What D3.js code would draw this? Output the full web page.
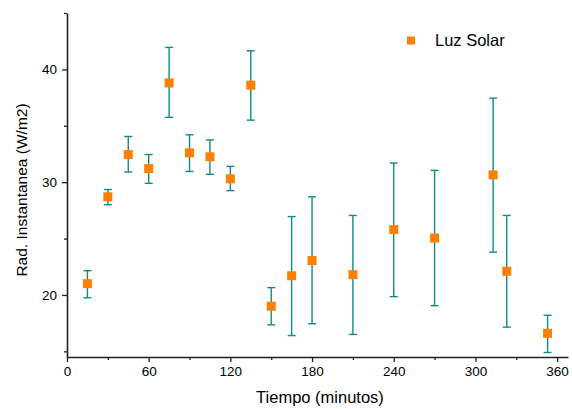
<!DOCTYPE html>
<html>
<head>
<meta charset="utf-8">
<script src="https://cdn.jsdelivr.net/npm/d3@7"></script>
<style>
  body { margin: 0; background: #fff; }
  text { font-family: "Liberation Sans", Arial, sans-serif; fill: #000; }
</style>
</head>
<body>
<div id="chart"></div>
<script>
// data
const tiempo = [15, 30, 45, 60, 75, 90, 105, 120, 135, 150, 165, 180, 210, 240, 270, 313, 323, 353];
const radiacion = [21.0, 28.7, 32.45, 31.2, 38.8, 32.6, 32.25, 30.3, 38.6, 19.0, 21.7, 23.05, 21.8, 25.8, 25.05, 30.65, 22.1, 16.6];
const errorAlto = [22.15, 29.35, 34.05, 32.45, 41.95, 34.2, 33.75, 31.4, 41.65, 20.65, 26.95, 28.7, 27.05, 31.7, 31.05, 37.45, 27.05, 18.2];
const errorBajo = [19.75, 28.0, 30.9, 29.9, 35.75, 30.95, 30.7, 29.25, 35.5, 17.35, 16.4, 17.45, 16.5, 19.85, 19.05, 23.8, 17.15, 14.9];
const xTicks = [0, 60, 120, 180, 240, 300, 360];
const xMinor = [30, 90, 150, 210, 270, 330];
const yTicks = [20, 30, 40];
const yMinor = [15, 25, 35, 45];

const width = 572, height = 409;
const margin = { left: 67, right: 4, top: 13, bottom: 52 };

const svg = d3.select("#chart").append("svg")
    .attr("width", width)
    .attr("height", height);

const xScale = d3.scaleLinear().domain([0, 368]).range([margin.left, width - margin.right]);
const yScale = d3.scaleLinear().domain([14.5, 45]).range([height - margin.bottom, margin.top]);

const axisColor = "#222";

// x axis
svg.append("g")
    .attr("transform", "translate(0," + (height - margin.bottom) + ")")
    .call(d3.axisBottom(xScale).tickValues(xTicks).tickSize(5).tickSizeOuter(0).tickPadding(4));
svg.append("g")
    .attr("transform", "translate(0," + (height - margin.bottom) + ")")
    .call(d3.axisBottom(xScale).tickValues(xMinor).tickSize(3).tickSizeOuter(0).tickFormat(""))
    .select(".domain").remove();

// y axis
svg.append("g")
    .attr("transform", "translate(" + margin.left + ",0)")
    .call(d3.axisLeft(yScale).tickValues(yTicks).tickSize(5).tickSizeOuter(0).tickPadding(5));
svg.append("g")
    .attr("transform", "translate(" + margin.left + ",0)")
    .call(d3.axisLeft(yScale).tickValues(yMinor).tickSize(3).tickSizeOuter(0).tickFormat(""))
    .select(".domain").remove();

svg.selectAll(".domain").attr("stroke", axisColor).attr("stroke-width", 1.6);
svg.selectAll(".tick line").attr("stroke", axisColor).attr("stroke-width", 1.3);
svg.selectAll(".tick text")
    .style("font-family", "'Liberation Sans', Arial, sans-serif")
    .style("font-size", "13.5px")
    .attr("fill", "#111");

// axis titles
svg.append("text")
    .attr("x", 320)
    .attr("y", 403)
    .attr("text-anchor", "middle")
    .style("font-size", "16.5px")
    .text("Tiempo (minutos)");

svg.append("text")
    .attr("transform", "translate(27,190) rotate(-90)")
    .attr("text-anchor", "middle")
    .style("font-size", "15.5px")
    .text("Rad. Instantanea (W/m2)");

// error bars
const teal = "#128a8a";
const capW = 4;
const bars = svg.append("g").attr("class", "errores")
    .selectAll("g")
    .data(tiempo)
    .join("g");

bars.append("line")
    .attr("x1", d => xScale(d)).attr("x2", d => xScale(d))
    .attr("y1", (d, i) => yScale(errorAlto[i]))
    .attr("y2", (d, i) => yScale(errorBajo[i]))
    .attr("stroke", teal).attr("stroke-width", 1.4);
bars.append("line")
    .attr("x1", d => xScale(d) - capW).attr("x2", d => xScale(d) + capW)
    .attr("y1", (d, i) => yScale(errorAlto[i])).attr("y2", (d, i) => yScale(errorAlto[i]))
    .attr("stroke", teal).attr("stroke-width", 1.4);
bars.append("line")
    .attr("x1", d => xScale(d) - capW).attr("x2", d => xScale(d) + capW)
    .attr("y1", (d, i) => yScale(errorBajo[i])).attr("y2", (d, i) => yScale(errorBajo[i]))
    .attr("stroke", teal).attr("stroke-width", 1.4);

// markers
const orange = "#ff7f00";
const sq = 9;
svg.append("g").attr("class", "puntos")
    .selectAll("rect")
    .data(tiempo)
    .join("rect")
    .attr("x", d => xScale(d) - sq / 2)
    .attr("y", (d, i) => yScale(radiacion[i]) - sq / 2)
    .attr("width", sq)
    .attr("height", sq)
    .attr("fill", orange);

// legend
svg.append("rect")
    .attr("x", 407).attr("y", 36.5)
    .attr("width", 8).attr("height", 8)
    .attr("fill", orange);
svg.append("text")
    .attr("x", 435).attr("y", 46)
    .style("font-size", "16.5px")
    .text("Luz Solar");
</script>
</body>
</html>
